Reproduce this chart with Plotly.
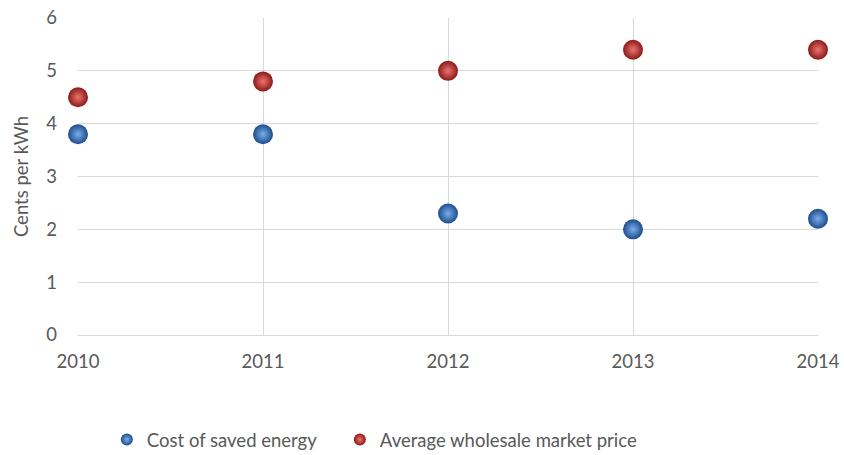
import plotly.graph_objects as go

years = [2010, 2011, 2012, 2013, 2014]
saved_energy = [3.8, 3.8, 2.3, 2.0, 2.2]
wholesale_price = [4.5, 4.8, 5.0, 5.4, 5.4]

fig = go.Figure()

fig.add_trace(
    go.Scatter(
        x=years,
        y=saved_energy,
        mode="markers",
        name="Cost of saved energy",
        cliponaxis=False,
        legendwidth=188,
        marker=dict(
            size=20,
            color="#1d4c8c",
            gradient=dict(type="radial", color="#7aaeea"),
            line=dict(width=0),
        ),
    )
)
fig.add_trace(
    go.Scatter(
        x=years,
        y=wholesale_price,
        mode="markers",
        name="Average wholesale market price",
        cliponaxis=False,
        marker=dict(
            size=20,
            color="#8a1a17",
            gradient=dict(type="radial", color="#ee7470"),
            line=dict(width=0),
        ),
    )
)

font = dict(family="Lato, Open Sans, sans-serif", size=18.5, color="#595959")

fig.update_layout(
    width=844,
    height=455,
    margin=dict(l=78, r=26, t=18, b=120, autoexpand=False),
    plot_bgcolor="white",
    paper_bgcolor="white",
    font=font,
    legend=dict(
        orientation="h",
        x=0.039,
        xanchor="left",
        y=-0.331,
        yanchor="middle",
        font=font,
        itemsizing="constant",
        itemwidth=30,
    ),
)

fig.update_xaxes(
    range=[2010, 2014],
    tickvals=years,
    showgrid=True,
    gridcolor="#d9d9d9",
    gridwidth=1.3,
    zeroline=False,
    showline=False,
    ticks="",
    ticklabelstandoff=13,
    ticklabeloverflow="allow",
    automargin=False,
    tickfont=font,
)
fig.update_yaxes(
    range=[0, 6],
    dtick=1,
    showgrid=True,
    gridcolor="#d9d9d9",
    gridwidth=1.3,
    zeroline=True,
    zerolinecolor="#d9d9d9",
    zerolinewidth=1.3,
    showline=False,
    ticks="",
    ticklabelstandoff=20,
    ticklabeloverflow="allow",
    automargin=False,
    tickfont=font,
    title=dict(text="Cents per kWh", font=font, standoff=12),
)

# drop the browser's default body margin so the figure fills the window
fig.write_html(
    "out.html",
    config={"displayModeBar": False},
    post_script="document.body.style.margin='0px';",
)
